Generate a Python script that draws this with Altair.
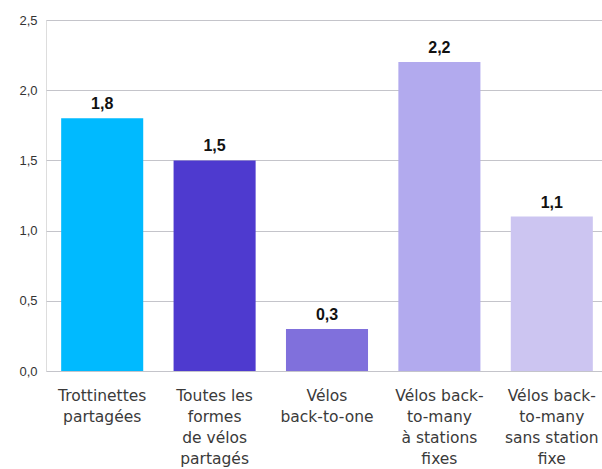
import altair as alt
import pandas as pd
import json

categories = ["Trottinettes partagées", "Toutes les formes de vélos partagés",
              "Vélos back-to-one", "Vélos back-to-many à stations fixes",
              "Vélos back-to-many sans station fixe"]
values = [1.8, 1.5, 0.3, 2.2, 1.1]
colors = ["#00BAFF", "#4E3ACF", "#8070DC", "#B2AAEE", "#CCC5F1"]
label_lines = [["Trottinettes", "partagées"],
               ["Toutes les", "formes", "de vélos", "partagés"],
               ["Vélos", "back-to-one"],
               ["Vélos back-", "to-many", "à stations", "fixes"],
               ["Vélos back-", "to-many", "sans station", "fixe"]]
y_ticks = [0, 0.5, 1.0, 1.5, 2.0, 2.5]

df = pd.DataFrame({"cat": categories, "val": values})
df["lbl"] = [f"{v:.1f}".replace(".", ",") for v in values]

mapping = json.dumps(dict(zip(categories, label_lines)), ensure_ascii=False)

x = alt.X("cat:N", sort=categories, title=None,
          scale=alt.Scale(paddingInner=0.27, paddingOuter=0.135, range=[0, 562]),
          axis=alt.Axis(labelExpr=f"{mapping}[datum.label]", labelAngle=0,
                        labelFont="DejaVu Sans", labelFontSize=15.5, labelColor="#3a3a3a",
                        labelLineHeight=21, labelPadding=17, ticks=False, domain=False,
                        labelBaseline="top"))
y = alt.Y("val:Q", title=None,
          scale=alt.Scale(domain=[0, 2.5], nice=False),
          axis=alt.Axis(values=y_ticks, labelExpr="replace(format(datum.value, '.1f'), '.', ',')",
                        labelFont="Liberation Sans", labelFontSize=13, labelColor="#333333",
                        labelPadding=9, ticks=False, domain=False,
                        gridColor="#C4C4CA", gridWidth=1))

bars = alt.Chart(df).mark_bar().encode(
    x=x, y=y,
    color=alt.Color("cat:N", scale=alt.Scale(domain=categories, range=colors), legend=None))

text = alt.Chart(df).mark_text(font="Liberation Sans", fontWeight="bold", fontSize=16,
                               color="#111111", dy=-9, baseline="alphabetic").encode(
    x=alt.X("cat:N", sort=categories), y=alt.Y("val:Q"), text="lbl:N")

chart = (bars + text).properties(
    width=556, height=351,
    autosize=alt.AutoSizeParams(type="none"),
    padding={"left": 46, "top": 20, "right": 0, "bottom": 98},
).configure_view(stroke=None).configure(background="white")

chart.save("out.html", embed_options={"renderer": "svg", "actions": False})
